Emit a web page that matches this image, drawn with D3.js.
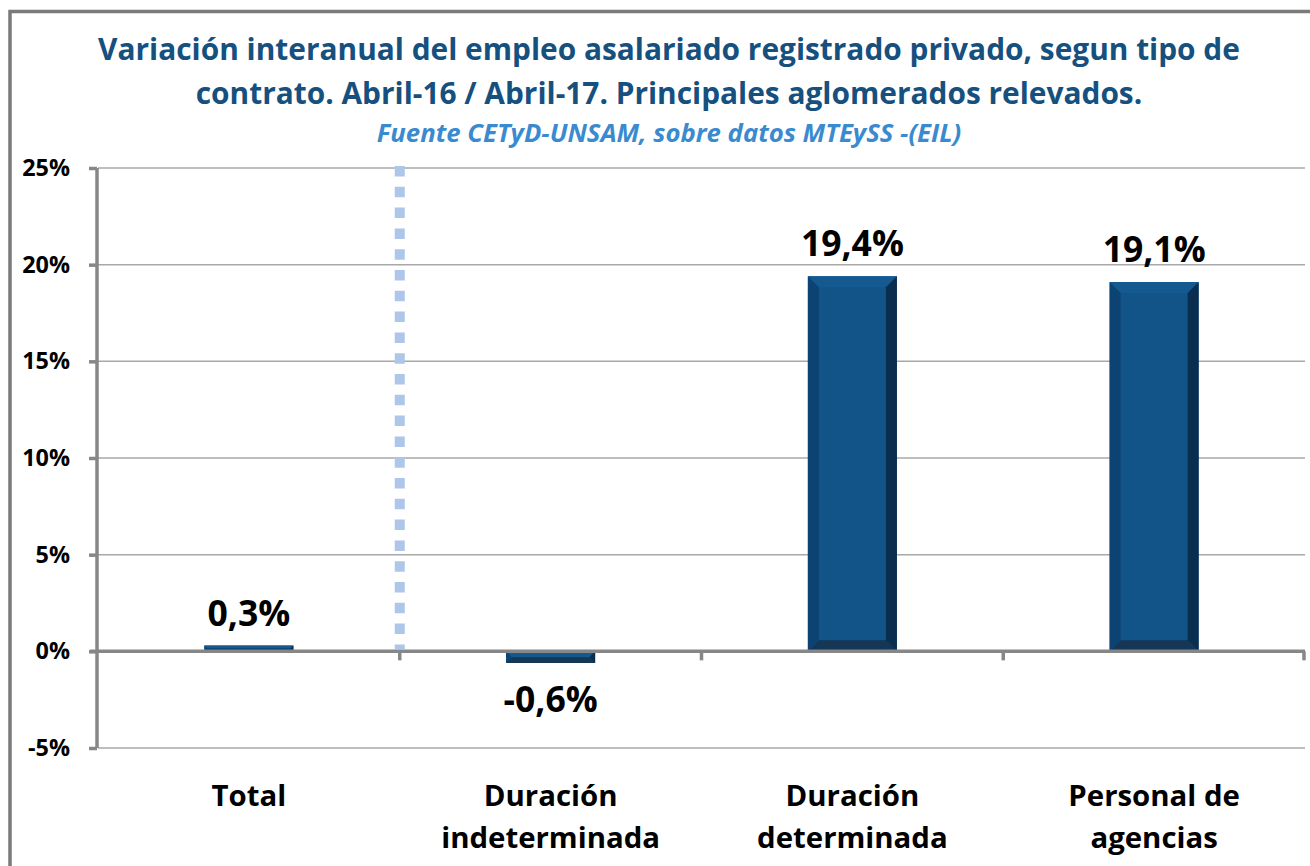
<!DOCTYPE html>
<html>
<head>
<meta charset="utf-8">
<script src="https://cdn.jsdelivr.net/npm/d3@7"></script>
<style>
  html, body { margin: 0; padding: 0; background: #fff; }
  svg { display: block; }
  text { font-family: "Open Sans", "Noto Sans", sans-serif; font-weight: bold; }
</style>
</head>
<body>
<svg id="chart" width="1310" height="866"></svg>
<script>
// data
const categories = [["Total"], ["Duración", "indeterminada"], ["Duración", "determinada"], ["Personal de", "agencias"]];
const values = [0.3, -0.6, 19.4, 19.1];
const valueLabels = ["0,3%", "-0,6%", "19,4%", "19,1%"];
const yTicks = [-5, 0, 5, 10, 15, 20, 25];
const titleLines = ["Variación interanual del empleo asalariado registrado privado, segun tipo de",
    "contrato. Abril-16 / Abril-17. Principales aglomerados relevados."];
const subtitle = "Fuente CETyD-UNSAM, sobre datos MTEySS -(EIL)";

const svg = d3.select("#chart");
const margin = { left: 98, right: 1305, top: 168, bottom: 748 };

const x = d3.scaleBand().domain(d3.range(categories.length)).range([margin.left, margin.right]).paddingInner(0.705).paddingOuter(0.3525);
const xb = d3.scaleBand().domain(d3.range(categories.length)).range([margin.left, margin.right]);
const y = d3.scaleLinear().domain([-5, 25]).range([margin.bottom, margin.top]);

// scale font so that the reference element has the given width
function fitWidth(sel, ref, target) {
    const fs = +sel.attr("font-size");
    const w = ref.node().getBBox().width;
    sel.attr("font-size", (fs * target / w).toFixed(2));
}

// outer frame
svg.append("rect").attr("x", 10).attr("y", 11.5).attr("width", 1320).attr("height", 880)
    .attr("fill", "none").attr("stroke", "#7a7a7a").attr("stroke-width", 3.5);

// title
const title = svg.append("text").attr("text-anchor", "middle").attr("fill", "#15507f").attr("font-size", 28);
titleLines.forEach((t, i) => {
    title.append("tspan").attr("x", 669).attr("y", 60 + i * 44).text(t);
});
fitWidth(title, title.select("tspan"), 1142);
const sub = svg.append("text").attr("x", 669).attr("y", 142).attr("text-anchor", "middle")
    .attr("fill", "#3a8ad0").attr("font-size", 21).attr("font-style", "italic").text(subtitle);
fitWidth(sub, sub, 585);

// gridlines
svg.append("g").selectAll("line").data(yTicks.filter(d => d !== 0)).join("line")
    .attr("x1", margin.left).attr("x2", margin.right)
    .attr("y1", d => y(d)).attr("y2", d => y(d))
    .attr("stroke", "#a8a8a8").attr("stroke-width", 1.5);

// y axis
const yAxis = svg.append("g").attr("transform", `translate(${margin.left - 1},0)`)
    .call(d3.axisLeft(y).tickValues(yTicks).tickSize(8).tickPadding(19).tickFormat(d => d + "%"));
yAxis.attr("font-family", null).attr("font-size", 22);
yAxis.select(".domain").attr("stroke", "#878787").attr("stroke-width", 3.5).attr("d", `M0,${margin.top}V${margin.bottom}`);
yAxis.selectAll(".tick line").attr("stroke", "#878787").attr("stroke-width", 3.5);
yAxis.selectAll(".tick text").attr("fill", "#000");
fitWidth(yAxis, yAxis.selectAll(".tick text").filter(d => d === 25), 48);

// dotted separator
svg.append("line").attr("x1", xb(1)).attr("x2", xb(1)).attr("y1", margin.top - 2).attr("y2", y(0) - 2)
    .attr("stroke", "#adc6e9").attr("stroke-width", 10).attr("stroke-dasharray", "10.5 10.3");

// bars with bevel
const faces = [
    { name: "top", fill: "#14598f" },
    { name: "bottom", fill: "#153655" },
    { name: "left", fill: "#0d4373" },
    { name: "right", fill: "#0a2e50" }
];
const bars = svg.append("g").selectAll("g").data(values).join("g");
bars.each(function (v, i) {
    const g = d3.select(this);
    const x0 = x(i), x1 = x(i) + x.bandwidth();
    const y0 = Math.min(y(v), y(0)), y1 = Math.max(y(v), y(0));
    const b = Math.min(11, (y1 - y0) / 2, (x1 - x0) / 2);
    const pts = {
        top: [[x0, y0], [x1, y0], [x1 - b, y0 + b], [x0 + b, y0 + b]],
        bottom: [[x0, y1], [x1, y1], [x1 - b, y1 - b], [x0 + b, y1 - b]],
        left: [[x0, y0], [x0 + b, y0 + b], [x0 + b, y1 - b], [x0, y1]],
        right: [[x1, y0], [x1 - b, y0 + b], [x1 - b, y1 - b], [x1, y1]]
    };
    g.append("rect").attr("x", x0).attr("y", y0).attr("width", x1 - x0).attr("height", y1 - y0).attr("fill", "#125487");
    faces.forEach(f => {
        g.append("path").attr("d", "M" + pts[f.name].join("L") + "Z").attr("fill", f.fill);
    });
});

// x axis at zero
svg.append("line").attr("x1", margin.left - 8).attr("x2", margin.right).attr("y1", y(0)).attr("y2", y(0))
    .attr("stroke", "#878787").attr("stroke-width", 3.5);
svg.append("g").selectAll("line").data(d3.range(1, categories.length + 1)).join("line")
    .attr("x1", d => d < categories.length ? xb(d) : margin.right - 1)
    .attr("x2", d => d < categories.length ? xb(d) : margin.right - 1)
    .attr("y1", y(0)).attr("y2", y(0) + 9)
    .attr("stroke", "#878787").attr("stroke-width", 3.5);

// value labels
const vals = svg.append("g").attr("font-size", 35).attr("fill", "#000").attr("text-anchor", "middle");
vals.selectAll("text").data(values).join("text")
    .attr("x", (d, i) => x(i) + x.bandwidth() / 2)
    .attr("y", d => d >= 0 ? y(d) - 20 : y(d) + 49)
    .text((d, i) => valueLabels[i]);
fitWidth(vals, vals.selectAll("text").filter((d, i) => i === 2), 103);

// category labels
const catG = svg.append("g").attr("font-size", 28).attr("fill", "#000").attr("text-anchor", "middle");
const cat = catG.selectAll("text").data(categories).join("text");
cat.each(function (lines, i) {
    d3.select(this).selectAll("tspan").data(lines).join("tspan")
        .attr("x", xb(i) + xb.bandwidth() / 2)
        .attr("y", (d, k) => 806 + k * 42)
        .text(d => d);
});
fitWidth(catG, cat.filter((d, i) => i === 1).selectAll("tspan").filter((d, k) => k === 1), 219);
</script>
</body>
</html>
